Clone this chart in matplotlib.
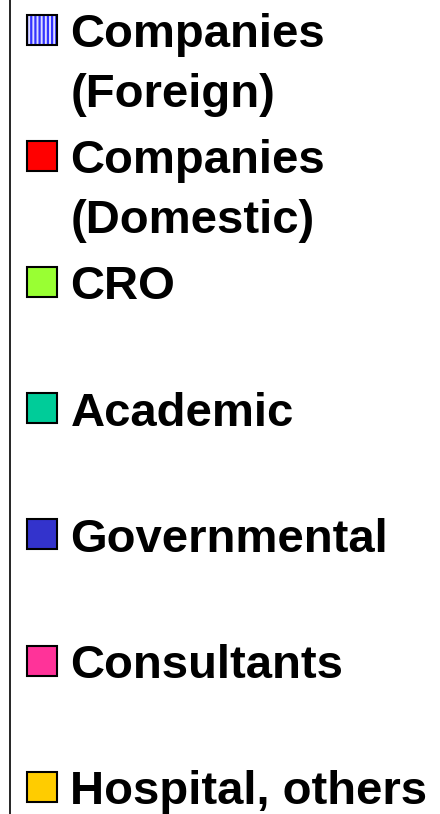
import matplotlib
matplotlib.use("Agg")
import matplotlib.pyplot as plt
from matplotlib.patches import Rectangle

# Legend entries
labels = ["Companies\n(Foreign)", "Companies\n(Domestic)", "CRO", "Academic",
          "Governmental", "Consultants", "Hospital, others"]
colors = ["#ddddff", "#ff0000", "#99ff33", "#00cc99", "#3333cc", "#ff3399", "#ffcc00"]
hatches = ["||||", None, None, None, None, None, None]

W, H = 440, 814
plt.rcParams["hatch.linewidth"] = 1.6
plt.rcParams["hatch.color"] = "#3333ff"
fig = plt.figure(figsize=(W / 100, H / 100), dpi=100)
ax = fig.add_axes([0, 0, 1, 1])
ax.set_xlim(0, W)
ax.set_ylim(H, 0)
ax.axis("off")

ax.plot([10, 10], [0, H], color="black", lw=1.2, solid_capstyle="butt")

y0, step = 29.5, 126.2
size = 30
fs = 34
line_gap = 60
for i, (lab, c, h) in enumerate(zip(labels, colors, hatches)):
    yc = y0 + i * step
    if h:
        ax.add_patch(Rectangle((26.5, yc - size / 2), size, size, facecolor=c,
                               hatch=h, edgecolor="#3333ff", lw=0))
        ax.add_patch(Rectangle((26.5, yc - size / 2), size, size, facecolor="none",
                               edgecolor="black", lw=1.5))
    else:
        ax.add_patch(Rectangle((26.5, yc - size / 2), size, size, facecolor=c,
                               edgecolor="black", lw=1.5))
    for j, line in enumerate(lab.split("\n")):
        ax.text(70.5, yc + 17.5 + j * line_gap, line, fontsize=fs, fontweight="bold",
                family=["Liberation Sans", "DejaVu Sans"], va="baseline", ha="left",
                color="black")

fig.savefig("out.png", dpi=100)
